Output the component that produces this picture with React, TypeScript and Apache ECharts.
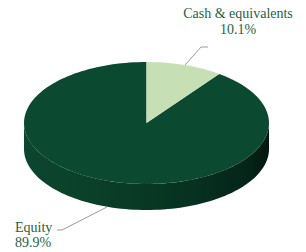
import React, { useEffect, useRef } from "react";
import * as echarts from "echarts";

const categories = ["Equity", "Cash & equivalents"];
const values = [89.9, 10.1];
const valueLabels = ["89.9%", "10.1%"];

// clockwise order starting at 12 o'clock: cash first, then equity
const order = [1, 0];

const topColors = ["#0b4a31", "#c6dfb5"];

export default function App() {
  const ref = useRef<HTMLDivElement>(null);
  useEffect(() => {
    if (!ref.current) return;
    const chart = echarts.init(ref.current, undefined, { renderer: "svg" });
    const total = values.reduce((a, b) => a + b, 0);
    const starts: number[] = [];
    let acc = 0;
    order.forEach((idx) => {
      starts[idx] = acc;
      acc += values[idx];
    });

    const cx = 146.5, cy = 123, rx = 122.5, ry = 61, depth = 26;
    const pt = (t: number, dy = 0) => [cx + rx * Math.sin(t), cy - ry * Math.cos(t) + dy];
    const arc = (t0: number, t1: number, dy = 0) => {
      const n = Math.max(2, Math.ceil(((t1 - t0) * 180) / Math.PI / 2));
      const res: number[][] = [];
      for (let i = 0; i <= n; i++) res.push(pt(t0 + ((t1 - t0) * i) / n, dy));
      return res;
    };

    const labelLayout: any = {
      0: {
        line: [[107, 207], [62, 230], [57, 230]],
        name: { x: 15, y: 227, align: "left" },
        val: { x: 15, y: 242, align: "left" },
      },
      1: {
        line: [[185, 65], [201, 47], [208, 47]],
        name: { x: 238, y: 13, align: "center" },
        val: { x: 238, y: 29, align: "center" },
      },
    };

    const textStyle = (text: string, align: string) => ({
      text,
      fill: "#1f5f46",
      fontFamily: "Liberation Serif",
      fontSize: 14,
      align,
      verticalAlign: "middle",
    });

    const renderItem = (params: any, api: any) => {
      const idx = params.dataIndex;
      const v = api.value(0);
      const t0 = (starts[idx] / total) * Math.PI * 2;
      const t1 = t0 + (v / total) * Math.PI * 2;
      const children: any[] = [];
      const s0 = Math.max(t0, Math.PI / 2);
      const s1 = Math.min(t1, (3 * Math.PI) / 2);
      if (s1 > s0) {
        const topEdge = arc(s0, s1);
        const bottomEdge = arc(s0, s1, depth).reverse();
        children.push({
          type: "polygon",
          shape: { points: topEdge.concat(bottomEdge) },
          style: {
            fill: new echarts.graphic.LinearGradient(1, 0, 0, 0, [
              { offset: 0, color: "#03170e" },
              { offset: 0.08, color: "#052419" },
              { offset: 0.35, color: "#073321" },
              { offset: 0.7, color: "#0a3f29" },
              { offset: 1, color: "#0c4630" },
            ]),
          },
        });
      }
      children.push({
        type: "polygon",
        shape: { points: [[cx, cy]].concat(arc(t0, t1)) },
        style: { fill: topColors[idx] },
      });
      const lay = labelLayout[idx];
      children.push({
        type: "polyline",
        shape: { points: lay.line },
        style: { stroke: "#9a9a9a", lineWidth: 1, fill: "none" },
      });
      children.push({
        type: "text",
        x: lay.name.x,
        y: lay.name.y,
        style: textStyle(categories[idx], lay.name.align),
      });
      children.push({
        type: "text",
        x: lay.val.x,
        y: lay.val.y,
        style: textStyle(valueLabels[idx], lay.val.align),
      });
      return { type: "group", children };
    };

    chart.setOption({
      animation: false,
      backgroundColor: "#ffffff",
      series: [
        {
          type: "custom",
          coordinateSystem: "none",
          renderItem,
          data: values.map((v, i) => ({ name: categories[i], value: [v] })),
        },
      ],
    });
    return () => chart.dispose();
  }, []);
  return (
    <div
      ref={ref}
      style={{ position: "fixed", left: 0, top: 0, width: 306, height: 252 }}
    />
  );
}
